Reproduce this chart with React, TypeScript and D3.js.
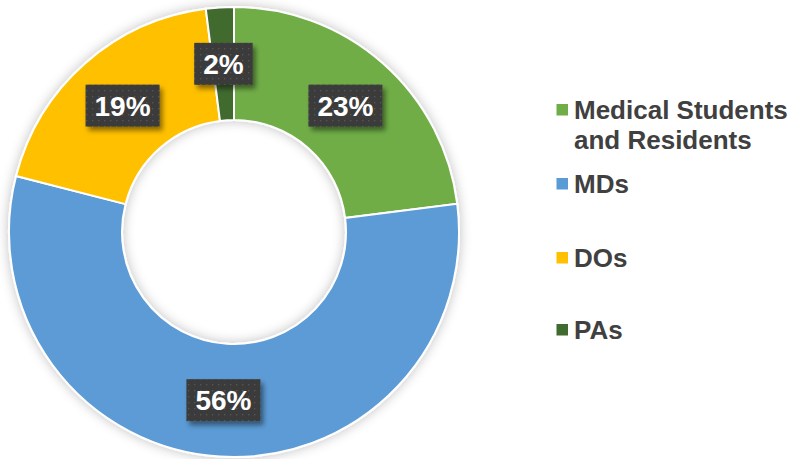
import React from "react";
import * as d3 from "d3";

const categories = ["Medical Students and Residents", "MDs", "DOs", "PAs"];
const legendLines = [["Medical Students", "and Residents"], ["MDs"], ["DOs"], ["PAs"]];
const values = [23, 56, 19, 2];
const labels = ["23%", "56%", "19%", "2%"];
const colors = ["#70AD47", "#5B9BD5", "#FFC000", "#406B2E"];

const W = 797;
const H = 459;
const cx = 234;
const cy = 232;
const outerR = 225;
const innerR = 112;

export default function App() {
  const pie = d3.pie<number>().sort(null).value((d) => d)(values);
  const arc = d3.arc<d3.PieArcDatum<number>>().innerRadius(innerR).outerRadius(outerR);
  const labelArc = d3.arc<d3.PieArcDatum<number>>().innerRadius((innerR + outerR) / 2).outerRadius((innerR + outerR) / 2);
  const fs = 28;
  const charW = (s: string) =>
    s.split("").reduce((a, c) => a + (c === "%" ? 0.889 : 0.556), 0) * fs;
  const legendY = [[119, 149], [193], [267], [339]];

  return (
    <svg width={W} height={H} style={{ position: "absolute", left: 0, top: 0 }}>
      <defs>
        <pattern id="dots" width="6" height="6" patternUnits="userSpaceOnUse">
          <rect width="6" height="6" fill="#3a3a3a" />
          <rect x="2" y="2" width="1.4" height="1.4" fill="#555" />
        </pattern>
        <filter id="boxShadow" x="-20%" y="-20%" width="150%" height="160%">
          <feDropShadow dx="3" dy="4" stdDeviation="2.5" floodColor="#000" floodOpacity="0.45" />
        </filter>
        <filter id="ringShadow" x="-10%" y="-10%" width="120%" height="120%">
          <feGaussianBlur in="SourceAlpha" stdDeviation="6" result="b" />
          <feFlood floodColor="#000" floodOpacity="0.25" />
          <feComposite in2="b" operator="in" result="s" />
          <feMerge>
            <feMergeNode in="s" />
            <feMergeNode in="SourceGraphic" />
          </feMerge>
        </filter>
      </defs>
      <rect width={W} height={H} fill="#fff" />
      <g transform={`translate(${cx},${cy})`}>
        <g filter="url(#ringShadow)">
          {pie.map((p, i) => (
            <path key={i} d={arc(p) || ""} fill={colors[i]} stroke="#fff" strokeWidth={2} />
          ))}
        </g>
        {pie.map((p, i) => {
          const [lx, ly] = labelArc.centroid(p);
          const tw = charW(labels[i]);
          const bw = tw + 18;
          const bh = 42;
          return (
            <g key={"l" + i}>
              <rect
                x={lx - bw / 2}
                y={ly - bh / 2}
                width={bw}
                height={bh}
                fill="url(#dots)"
                filter="url(#boxShadow)"
              />
              <text
                x={lx}
                y={ly}
                dy="0.36em"
                textAnchor="middle"
                fill="#fff"
                fontFamily="'Liberation Sans', Arial, sans-serif"
                fontWeight="bold"
                fontSize={fs}
              >
                {labels[i]}
              </text>
            </g>
          );
        })}
      </g>
      <g>
        {categories.map((c, i) => (
          <g key={c}>
            <rect x={556.5} y={legendY[i][0] - 15} width={11.5} height={11.5} fill={colors[i]} />
            {legendLines[i].map((line, j) => (
              <text
                key={j}
                x={574}
                y={legendY[i][j]}
                fill="#404040"
                fontFamily="'Liberation Sans', Arial, sans-serif"
                fontWeight="bold"
                fontSize={26}
              >
                {line}
              </text>
            ))}
          </g>
        ))}
      </g>
    </svg>
  );
}
